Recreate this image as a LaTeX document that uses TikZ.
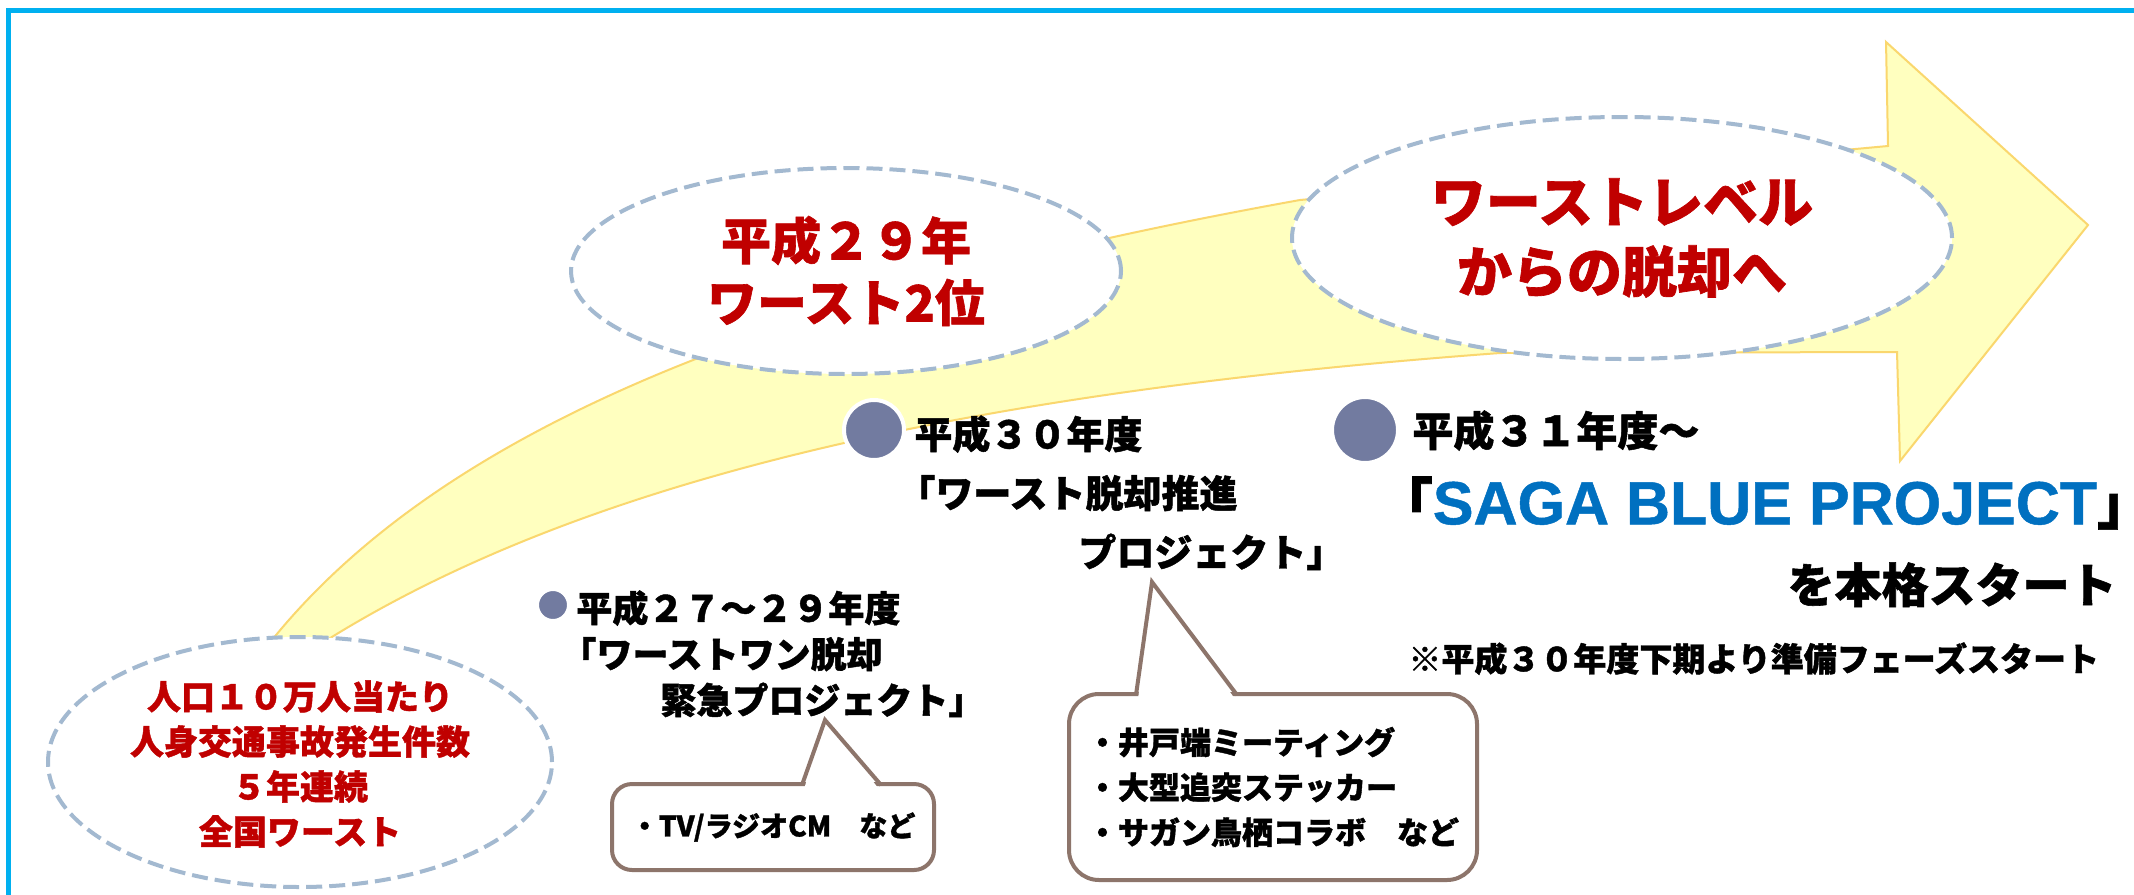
\documentclass[tikz,border=0pt]{standalone}
\usepackage{fontspec}
\newfontfamily\jp{Noto Sans CJK JP}[BoldFeatures={FakeBold=1.2}]
\newfontfamily\lat{Liberation Sans}[BoldFeatures={FakeBold=0.8}]
\usetikzlibrary{shapes.geometric}
\definecolor{framec}{RGB}{0,176,240}
\definecolor{redc}{RGB}{192,0,0}
\definecolor{bluec}{RGB}{0,112,192}
\definecolor{dotc}{RGB}{114,123,160}
\definecolor{ellc}{RGB}{163,185,208}
\definecolor{brownc}{RGB}{141,117,107}
\definecolor{arrfill}{RGB}{255,255,191}
\definecolor{arrline}{RGB}{250,215,110}
\newcommand\jfs[2]{\fontsize{#1}{#2}\selectfont}
\tikzset{
  ell/.style={ellipse, draw=ellc, line width=2pt, dash pattern=on 8pt off 3.5pt, fill=white, inner sep=0pt},
  redtxt/.style={text=redc, align=center, inner sep=0pt},
  blk/.style={text=black, align=left, inner sep=0pt},
  tdot/.style={circle, fill=dotc, draw=white, line width=2pt, inner sep=0pt},
  callbox/.style={draw=brownc, line width=2pt, fill=white, inner sep=0pt, align=left},
  callline/.style={draw=brownc, line width=2pt, line join=miter},
  arrowbody/.style={fill=arrfill, draw=arrline, line width=1pt, line join=miter}
}
\begin{document}
\begin{tikzpicture}[x=0.5pt,y=-0.5pt]
\useasboundingbox (0,0) rectangle (2134,894);
\fill[white] (0,0) rectangle (2134,894);
% frame
\draw[framec, line width=2.5pt] (8,905) -- (8,10) -- (2145,10);
% big curved arrow
\path[arrowbody] (272,655) -- (272,640) .. controls (450,420) and (800,290) .. (1300,200)
  -- (1888,146) -- (1886,42) -- (2088,225) -- (1900,461) -- (1897,352) -- (1500,353)
  .. controls (1000,390) and (600,470) .. (327,640) -- (327,655) -- cycle;
% ellipses
\node[ell, minimum width=275pt, minimum height=103pt] (e29) at (846,271) {};
\node[ell, minimum width=330pt, minimum height=121pt] (eB) at (1622,238) {};
\node[ell, minimum width=252pt, minimum height=125pt] (eC) at (300,762) {};
\node[redtxt, font=\jp\bfseries\jfs{25pt}{31pt}] (t29) at (e29.center) {平成２９年\\ワースト2位};
\node[redtxt, font=\jp\bfseries\jfs{27.5pt}{35pt}] (tB) at (eB.center) {ワーストレベル\\からの脱却へ};
\node[redtxt, font=\jp\bfseries\jfs{17pt}{22.5pt}] (tC) at (300,764) {人口１０万人当たり\\人身交通事故発生件数\\５年連続\\全国ワースト};
% timeline dots
\node[tdot, minimum size=16pt] (d1) at (553,605) {};
\node[tdot, minimum size=30pt] (d2) at (874,430) {};
\node[tdot, minimum size=33pt] (d3) at (1365,430) {};
% timeline texts
\node[blk, anchor=north west, font=\jp\bfseries\jfs{18pt}{23pt}] (p1) at (576,590)
  {平成２７～２９年度\\\hspace*{-8pt}「ワーストワン脱却\\\hspace*{42pt}緊急プロジェクト」};
\node[blk, anchor=north west, font=\jp\bfseries\jfs{19pt}{29.5pt}] (p2) at (914,415)
  {平成３０年度\\\hspace*{-8.5pt}「ワースト脱却推進\\\hspace*{82pt}プロジェクト」};
\node[blk, anchor=north west, font=\jp\bfseries\jfs{20.5pt}{24pt}] (p3) at (1412,410) {平成３１年度～};
\node[blk, inner sep=0pt] (saga) at (1765,503)
  {{\jp\bfseries\jfs{28pt}{28pt}「}{\lat\bfseries\color{bluec}\jfs{30.5pt}{30.5pt}SAGA BLUE PROJECT}{\jp\bfseries\jfs{28pt}{28pt}」}};
\node[blk, anchor=north east, font=\jp\bfseries\jfs{23.5pt}{26pt}] (start) at (2117,562) {を本格スタート};
\node[blk, anchor=north west, font=\jp\bfseries\jfs{16.5pt}{20pt}] (note) at (1408,642) {※平成３０年度下期より準備フェーズスタート};
% callouts
\node[callbox, rounded corners=10pt, minimum width=161pt, minimum height=43pt, font=\jp\bfseries\jfs{14pt}{18pt}] (c1) at (773,827) {・TV/ラジオCM　など};
\fill[white] (804,789) -- (825,722) -- (879,789) -- cycle;
\draw[callline] (802,785) -- (825,720) -- (881,785);
\node[callbox, rounded corners=15pt, minimum width=204pt, minimum height=93pt, font=\jp\bfseries\jfs{15.5pt}{22.5pt}] (c2) at (1273,787) {・井戸端ミーティング\\・大型追突ステッカー\\・サガン鳥栖コラボ　など};
\fill[white] (1138,699) -- (1152,584) -- (1235,699) -- cycle;
\draw[callline] (1136,695) -- (1152,582) -- (1237,695);
\end{tikzpicture}
\end{document}
